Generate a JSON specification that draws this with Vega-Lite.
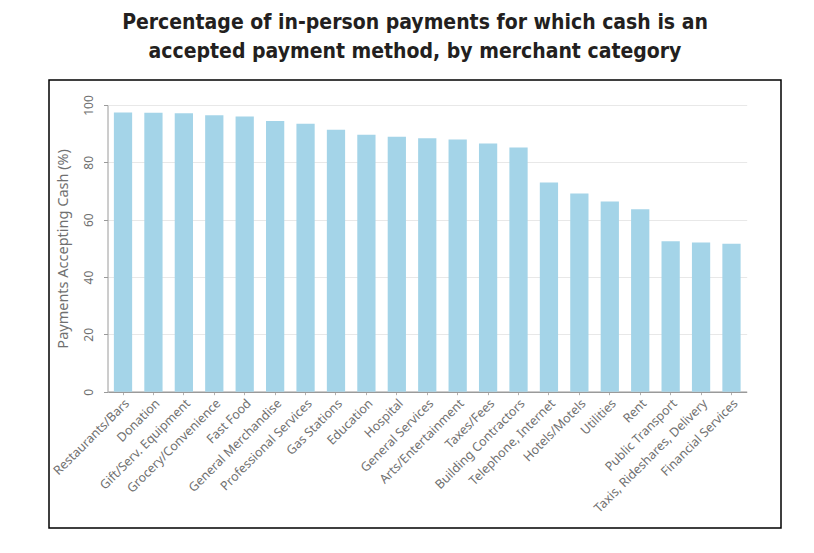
{
  "$schema": "https://vega.github.io/schema/vega-lite/v6.json",
  "autosize": "none",
  "padding": {"left": 49, "top": 80, "right": 32, "bottom": 25},
  "width": 732,
  "height": 448,
  "title": {
    "text": ["Percentage of in-person payments for which cash is an", "accepted payment method, by merchant category"],
    "font": "Noto Sans Condensed, DejaVu Sans Condensed, sans-serif",
    "fontWeight": "bold",
    "fontSize": 21,
    "lineHeight": 29,
    "color": "#231f20",
    "anchor": "middle",
    "baseline": "bottom",
    "offset": -3
  },
  "data": {
    "values": [
      {"category": "Restaurants/Bars", "pct": 97.4},
      {"category": "Donation", "pct": 97.3},
      {"category": "Gift/Serv. Equipment", "pct": 97.1},
      {"category": "Grocery/Convenience", "pct": 96.4},
      {"category": "Fast Food", "pct": 96.0},
      {"category": "General Merchandise", "pct": 94.4},
      {"category": "Professional Services", "pct": 93.5},
      {"category": "Gas Stations", "pct": 91.4},
      {"category": "Education", "pct": 89.6},
      {"category": "Hospital", "pct": 88.9},
      {"category": "General Services", "pct": 88.4},
      {"category": "Arts/Entertainment", "pct": 88.0},
      {"category": "Taxes/Fees", "pct": 86.6},
      {"category": "Building Contractors", "pct": 85.2},
      {"category": "Telephone, Internet", "pct": 73.0},
      {"category": "Hotels/Motels", "pct": 69.1},
      {"category": "Utilities", "pct": 66.3},
      {"category": "Rent", "pct": 63.6},
      {"category": "Public Transport", "pct": 52.5},
      {"category": "Taxis, Rideshares, Delivery", "pct": 52.0},
      {"category": "Financial Services", "pct": 51.6}
    ]
  },
  "mark": {"type": "bar", "color": "#a4d4e8"},
  "encoding": {
    "x": {
      "field": "category",
      "type": "nominal",
      "sort": null,
      "scale": {"range": [58.8, 697.7], "paddingInner": 0.4, "paddingOuter": 0.2},
      "axis": {
        "title": null,
        "offset": -136.3,
        "labelAngle": -45,
        "labelFont": "Noto Sans",
        "labelFontSize": 12.5,
        "labelColor": "#707070",
        "domainColor": "#9a9a9a",
        "domainWidth": 1.5,
        "tickColor": "#b0b0b0",
        "tickSize": 3,
        "labelPadding": 2
      }
    },
    "y": {
      "field": "pct",
      "type": "quantitative",
      "scale": {"domain": [0, 100], "range": [311.7, 25]},
      "axis": {
        "title": "Payments Accepting Cash (%)",
        "offset": -58.5,
        "values": [0, 20, 40, 60, 80, 100],
        "labelAngle": -90,
        "labelAlign": "center",
        "labelBaseline": "bottom",
        "labelPadding": 8,
        "labelFont": "Noto Sans",
        "labelFontSize": 12,
        "labelColor": "#707070",
        "titleFont": "Noto Sans",
        "titleFontSize": 14.5,
        "titleFontWeight": "normal",
        "titleColor": "#707070",
        "titlePadding": 12,
        "domainColor": "#9a9a9a",
        "tickColor": "#9a9a9a",
        "tickSize": 4,
        "gridColor": "#e8e8e8"
      }
    }
  },
  "config": {
    "view": {"stroke": "#000000", "strokeWidth": 1.5}
  }
}
